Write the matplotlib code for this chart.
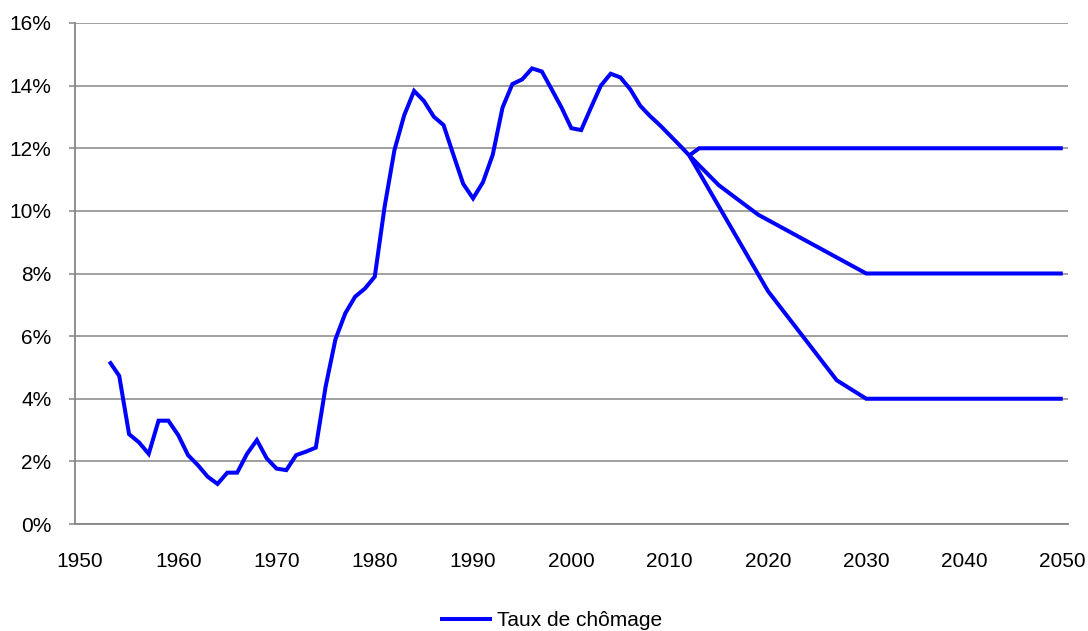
import matplotlib
matplotlib.use("Agg")
import matplotlib.pyplot as plt
from matplotlib.ticker import FuncFormatter

# Historical unemployment rate (%), 1953-2012
hist_years = list(range(1953, 2013))
hist_values = [5.19, 4.73, 2.87, 2.61, 2.24, 3.30, 3.30, 2.84, 2.20, 1.88,
               1.51, 1.28, 1.64, 1.64, 2.24, 2.68, 2.10, 1.77, 1.72, 2.20,
               2.31, 2.44, 4.39, 5.90, 6.73, 7.26, 7.52, 7.90, 10.13, 11.94,
               13.06, 13.83, 13.51, 13.01, 12.74, 11.79, 10.86, 10.40, 10.91, 11.79,
               13.30, 14.05, 14.20, 14.55, 14.45, 13.88, 13.30, 12.64, 12.58, 13.30,
               14.00, 14.38, 14.26, 13.88, 13.36, 13.03, 12.74, 12.42, 12.10, 11.77]

# Scenarios (vertices)
scen_high_years = [2012, 2013, 2050]
scen_high_values = [11.77, 12.0, 12.0]
scen_mid_years = [2012, 2015, 2019, 2030, 2050]
scen_mid_values = [11.77, 10.82, 9.88, 8.0, 8.0]
scen_low_years = [2012, 2020, 2027, 2030, 2050]
scen_low_values = [11.77, 7.44, 4.59, 4.0, 4.0]

series_label = "Taux de chômage"
yticks = list(range(0, 17, 2))

plt.rcParams['font.family'] = ['Liberation Sans', 'DejaVu Sans']

fig = plt.figure(figsize=(10.88, 6.31), dpi=100)
ax = fig.add_axes([75/1088, 1-524/631, (1067.7-75)/1088, (524-23)/631])

blue = '#0000FF'
lw = 2.9
ax.plot(hist_years, hist_values, color=blue, lw=lw, label=series_label,
        solid_joinstyle='miter', solid_capstyle='butt')
for xs, ys in [(scen_high_years, scen_high_values),
               (scen_mid_years, scen_mid_values),
               (scen_low_years, scen_low_values)]:
    ax.plot(xs, ys, color=blue, lw=lw, solid_joinstyle='miter', solid_capstyle='butt')

ax.set_xlim(1949.5, 2050.5)
ax.set_ylim(0, 16)
ax.set_xticks(list(range(1950, 2051, 10)))
ax.set_yticks(yticks)
ax.yaxis.set_major_formatter(FuncFormatter(lambda v, p: f"{int(v)}%"))

grey = '#868686'
ax.grid(axis='y', color=grey, lw=1.1)
ax.set_axisbelow(True)
for s in ['top', 'right']:
    ax.spines[s].set_visible(False)
for s in ['left', 'bottom']:
    ax.spines[s].set_color(grey)
    ax.spines[s].set_linewidth(1.3)

ax.tick_params(axis='y', length=4, width=1.1, color=grey, pad=13, labelsize=15)
ax.tick_params(axis='x', length=0, pad=20, labelsize=15)

fig.legend(loc='center', bbox_to_anchor=(551/1088, 1-621/631), frameon=False,
           fontsize=15, handlelength=2.5, handletextpad=0.25)

fig.savefig("out.png", dpi=100)
